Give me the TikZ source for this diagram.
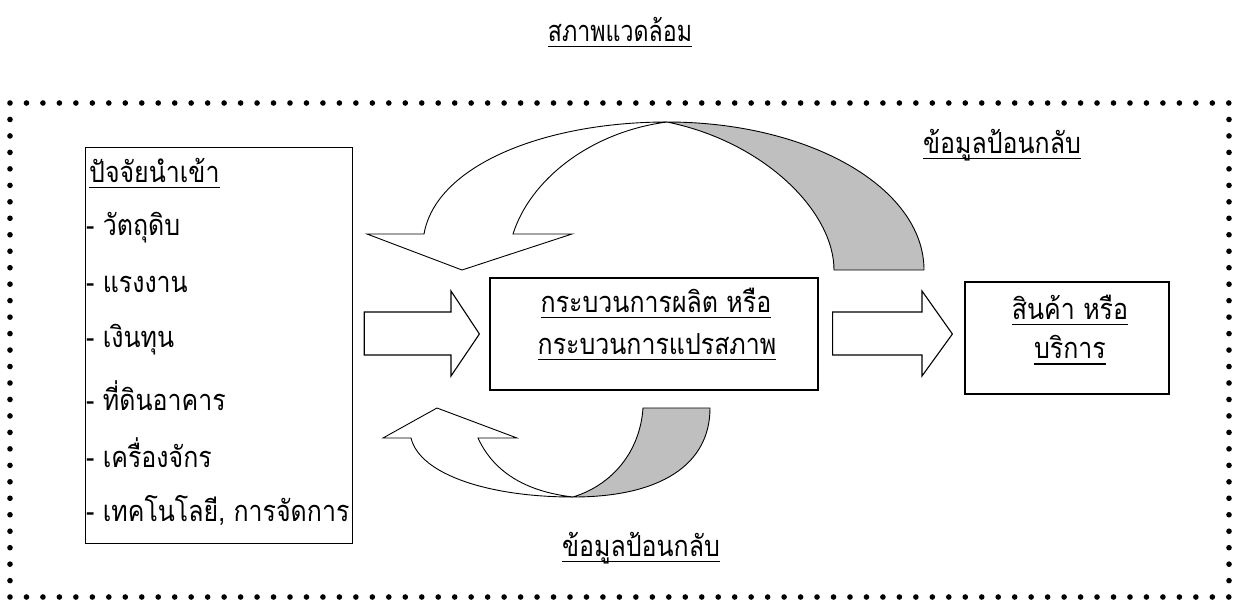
\documentclass[tikz,border=0pt]{standalone}
\usepackage{fontspec}
\newfontfamily\thai[Script=Thai,FakeStretch=0.86]{Loma}
\newfontfamily\thainarrow[Script=Thai,FakeStretch=0.8]{Loma}
\usetikzlibrary{calc}
\newsavebox\ulbox
\newcommand\ulthai[1]{\sbox\ulbox{#1}\rlap{\rule[-0.2em]{\wd\ulbox}{0.05em}}\usebox\ulbox}
\tikzset{
  txt/.style={inner sep=0pt, font=\thai\fontsize{29}{32}\selectfont, text=black},
  boxed/.style={draw, line width=1.2pt, inner sep=0pt},
  blockarrow/.style={draw, line width=1.1pt, fill=white, line join=miter},
  band/.style={draw, line width=0.9pt, fill=white},
  shade/.style={draw, line width=0.9pt, fill=black!25},
  dot/.style={fill=black}
}
\begin{document}
\begin{tikzpicture}[x=1pt,y=-1pt]
\useasboundingbox (0,0) rectangle (1238,605);
\fill[white] (0,0) rectangle (1238,605);
% title
\node[txt, font=\thainarrow\fontsize{29}{32}\selectfont] (title) at (620,32) {\ulthai{สภาพแวดล้อม}};
% dotted border
\foreach \i in {0,...,74} {
  \fill[dot] (10+\i*16.47,103) circle (2.8);
  \fill[dot] (10+\i*16.47,597) circle (2.8);
}
\foreach \j in {1,...,29} {
  \fill[dot] (10,103+\j*16.47) circle (2.8);
  \fill[dot] (1229,103+\j*16.47) circle (2.8);
}
% input box
\node[boxed, minimum width=267, minimum height=396, anchor=north west] (inbox) at (85,147) {};
\node[txt, anchor=west] (inh) at (89,173) {\ulthai{ปัจจัยนำเข้า}};
\node[txt, anchor=west] (in1) at (86,228) {- วัตถุดิบ};
\node[txt, anchor=west] (in2) at (86,284) {- แรงงาน};
\node[txt, anchor=west] (in3) at (86,340) {- เงินทุน};
\node[txt, anchor=west] (in4) at (86,396) {- ที่ดินอาคาร};
\node[txt, anchor=west] (in5) at (86,453) {- เครื่องจักร};
\node[txt, anchor=west] (in6) at (86,510) {- เทคโนโลยี, การจัดการ};
% process box
\node[boxed, minimum width=328, minimum height=112] (proc) at (654,334) {};
\node[txt] (proc1) at (656,303) {\ulthai{กระบวนการผลิต หรือ}};
\node[txt] (proc2) at (657,347) {\ulthai{กระบวนการแปรสภาพ}};
% output box
\node[boxed, minimum width=204, minimum height=112] (outbox) at (1067,338) {};
\node[txt] (out1) at (1070,310) {\ulthai{สินค้า หรือ}};
\node[txt] (out2) at (1070,350) {\ulthai{บริการ}};
% feedback labels
\node[txt] (fbtop) at (1002,145) {\ulthai{ข้อมูลป้อนกลับ}};
\node[txt] (fbbot) at (641,548) {\ulthai{ข้อมูลป้อนกลับ}};
% straight block arrows
\coordinate (a1s) at ($(inbox.east)+(11,0)$);
\coordinate (a1t) at ($(proc.west)+(-10,0)$);
\draw[blockarrow] (a1s |- 0,312) -- (451,312) -- (451,291) -- (a1t) -- (451,376) -- (451,355) -- (a1s |- 0,355) -- cycle;
\coordinate (a2s) at ($(proc.east)+(14,0)$);
\coordinate (a2t) at ($(outbox.west)+(-12,-4)$);
\draw[blockarrow] (a2s |- 0,312) -- (922,312) -- (922,291) -- (a2t) -- (922,376) -- (922,355) -- (a2s |- 0,355) -- cycle;
% top curved feedback arrow
\draw[shade] (667,122) .. controls (810,122) and (924,188) .. (924,270) -- (834,270) .. controls (834,212) and (765,142) .. (667,122) -- cycle;
\draw[band, line join=miter] (424,234) -- (367,234) -- (462,270) -- (572,234) -- (513,234) .. controls (530,180) and (590,132) .. (667,122) .. controls (545,122) and (436,165) .. (424,234) -- cycle;
% bottom curved feedback arrow
\draw[shade] (573,497) .. controls (660,497) and (710,465) .. (710,408) -- (643,408) .. controls (640,452) and (612,485) .. (573,497) -- cycle;
\draw[band, line join=miter] (411,438) -- (383,438) -- (437,408) -- (517,438) -- (478,438) .. controls (495,475) and (530,492) .. (573,497) .. controls (490,497) and (420,475) .. (411,438) -- cycle;
\end{tikzpicture}
\end{document}
